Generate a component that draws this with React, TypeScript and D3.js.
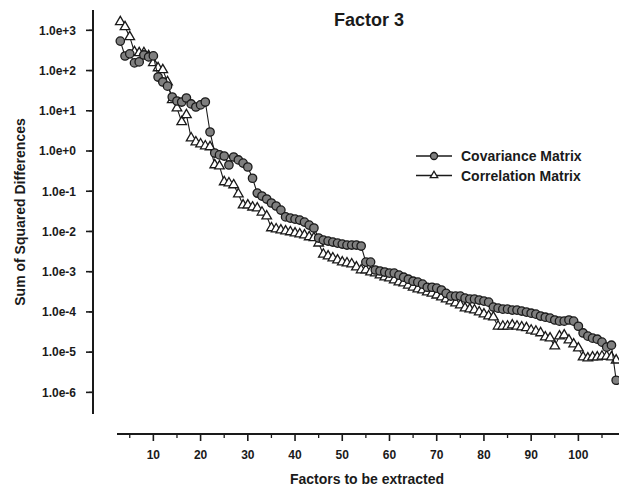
import React, { useEffect, useRef } from "react";
import * as d3 from "d3";

// factors 3..108
const factors = d3.range(3, 109);

// Covariance Matrix (circles)
const covariance = [
  540, 230, 260, 155, 164, 244, 218, 231, 69, 52,
  41, 22, 17.5, 16.5, 20.8, 14.8, 12.4, 14, 16.5, 2.97,
  0.89, 0.8, 0.75, 0.45, 0.71, 0.6, 0.5, 0.4, 0.21, 0.09,
  0.076, 0.064, 0.051, 0.043, 0.034, 0.023, 0.0215, 0.0203, 0.0192, 0.0171,
  0.0144, 0.0122, 0.00686, 0.0061, 0.00577, 0.00545, 0.00514, 0.00486, 0.00459, 0.00459,
  0.00459, 0.00434, 0.00173, 0.00173, 0.0011, 0.00104, 0.00098, 0.00092, 0.00092, 0.00082,
  0.00073, 0.00065, 0.00058, 0.00055, 0.00049, 0.00041, 0.00041, 0.00039, 0.00035, 0.00029,
  0.000247, 0.000247, 0.000247, 0.00022, 0.000208, 0.000208, 0.000197, 0.000186, 0.000175, 0.000132,
  0.000124, 0.000117, 0.000117, 0.000111, 0.000111, 0.000105, 9.9e-5, 9.3e-5, 8.8e-5, 7.9e-5,
  7.4e-5, 7.0e-5, 6.3e-5, 5.9e-5, 5.9e-5, 6.3e-5, 5.9e-5, 4.4e-5, 3.0e-5, 2.5e-5,
  2.23e-5, 2.1e-5, 1.77e-5, 1.33e-5, 1.49e-5, 2.0e-6,
];

// Correlation Matrix (triangles)
const correlation = [
  1620, 1215, 685, 290, 274, 274, 231, 155, 116, 104,
  52, 18.6, 11.7, 5.3, 7.9, 2.1, 1.67, 1.49, 1.33, 1.26,
  0.45, 0.42, 0.17, 0.16, 0.143, 0.085, 0.045, 0.045, 0.04, 0.038,
  0.03, 0.024, 0.0122, 0.0115, 0.0108, 0.0102, 0.0097, 0.0091, 0.0086, 0.0081,
  0.0073, 0.0069, 0.0051, 0.0027, 0.00244, 0.00218, 0.00194, 0.00173, 0.00164, 0.00155,
  0.0013, 0.0011, 0.0011, 0.00098, 0.00092, 0.00082, 0.00073, 0.00069, 0.00062, 0.00055,
  0.00052, 0.00046, 0.00041, 0.00037, 0.00035, 0.00031, 0.00029, 0.00026, 0.000233, 0.000208,
  0.000186, 0.000166, 0.000148, 0.000124, 0.000117, 0.000111, 9.9e-5, 8.8e-5, 7.9e-5, 7.4e-5,
  4.4e-5, 4.4e-5, 4.4e-5, 4.7e-5, 4.4e-5, 4.2e-5, 4.0e-5, 3.5e-5, 3.3e-5, 3.0e-5,
  2.36e-5, 2.23e-5, 1.41e-5, 2.5e-5, 2.65e-5, 1.99e-5, 1.58e-5, 1.26e-5, 7.5e-6, 7.1e-6,
  7.5e-6, 7.5e-6, 7.9e-6, 7.9e-6, 7.5e-6, 6.3e-6,
];

const xTickValues = [10, 20, 30, 40, 50, 60, 70, 80, 90, 100];
const xMinorValues = [5, 15, 25, 35, 45, 55, 65, 75, 85, 95, 105];
const seriesNames = ["Covariance Matrix", "Correlation Matrix"];

const FONT = "'Liberation Sans', Arial, sans-serif";
const INK = "#1a1a1a";

export default function App() {
  const ref = useRef<SVGSVGElement>(null);

  useEffect(() => {
    const svg = d3.select(ref.current);
    svg.selectAll("*").remove();

    const x = d3.scaleLinear().domain([2.3, 108.6]).range([117, 619]);
    const y = d3.scaleLog().domain([2.9e-7, 3.2e3]).range([414, 10]);

    svg.append("rect").attr("width", 619).attr("height", 487).attr("fill", "#fff");

    // y axis
    const allY = y.ticks();
    const majorY = allY.filter((v) => Math.abs(Math.log10(v) - Math.round(Math.log10(v))) < 1e-6);
    const yAxisG = svg.append("g").attr("transform", "translate(93,0)");
    yAxisG.append("line").attr("y1", 10).attr("y2", 414).attr("stroke", INK).attr("stroke-width", 2);
    yAxisG.selectAll(".minor").data(allY).enter().append("line")
      .attr("x1", -4).attr("x2", 0)
      .attr("y1", (d) => y(d)).attr("y2", (d) => y(d))
      .attr("stroke", INK).attr("stroke-width", 1.3);
    yAxisG.selectAll(".major").data(majorY).enter().append("line")
      .attr("x1", -7).attr("x2", 0)
      .attr("y1", (d) => y(d)).attr("y2", (d) => y(d))
      .attr("stroke", INK).attr("stroke-width", 1.6);
    yAxisG.selectAll(".lbl").data(majorY).enter().append("text")
      .attr("x", -17).attr("y", (d) => y(d)).attr("dy", "0.36em")
      .attr("text-anchor", "end")
      .style("font", `bold 12px ${FONT}`).attr("fill", INK)
      .text((d) => d.toExponential(1));

    // x axis
    const xAxisG = svg.append("g").attr("transform", "translate(0,434)");
    xAxisG.append("line").attr("x1", 117).attr("x2", 619).attr("stroke", INK).attr("stroke-width", 2);
    xAxisG.selectAll(".minor").data(xMinorValues).enter().append("line")
      .attr("x1", (d) => x(d)).attr("x2", (d) => x(d)).attr("y1", 0).attr("y2", 4)
      .attr("stroke", INK).attr("stroke-width", 1.3);
    xAxisG.selectAll(".major").data(xTickValues).enter().append("line")
      .attr("x1", (d) => x(d)).attr("x2", (d) => x(d)).attr("y1", 0).attr("y2", 7)
      .attr("stroke", INK).attr("stroke-width", 1.6);
    xAxisG.selectAll(".lbl").data(xTickValues).enter().append("text")
      .attr("x", (d) => x(d)).attr("y", 25)
      .attr("text-anchor", "middle")
      .style("font", `bold 12px ${FONT}`).attr("fill", INK)
      .text((d) => d);

    // titles
    svg.append("text").attr("x", 369).attr("y", 26).attr("text-anchor", "middle")
      .style("font", `bold 18px ${FONT}`).attr("fill", INK).text("Factor 3");
    svg.append("text").attr("x", 367).attr("y", 484).attr("text-anchor", "middle")
      .style("font", `bold 14px ${FONT}`).attr("fill", INK).text("Factors to be extracted");
    svg.append("text").attr("transform", "translate(25,212) rotate(-90)").attr("text-anchor", "middle")
      .style("font", `bold 14px ${FONT}`).attr("fill", INK).text("Sum of Squared Differences");

    const line = d3.line<number>().x((d, i) => x(factors[i])).y((d) => y(d));
    const tri = d3.symbol().type(d3.symbolTriangle).size(40);
    const triSmall = d3.symbol().type(d3.symbolTriangle).size(24);

    // correlation
    svg.append("path").attr("d", line(correlation)).attr("fill", "none").attr("stroke", INK).attr("stroke-width", 1.1);
    svg.selectAll(".tri").data(correlation).enter().append("path")
      .attr("d", tri)
      .attr("transform", (d, i) => `translate(${x(factors[i])},${y(d)})`)
      .attr("fill", "#fff").attr("stroke", INK).attr("stroke-width", 1.3);

    // covariance
    svg.append("path").attr("d", line(covariance)).attr("fill", "none").attr("stroke", INK).attr("stroke-width", 1.1);
    svg.selectAll(".circ").data(covariance).enter().append("circle")
      .attr("cx", (d, i) => x(factors[i])).attr("cy", (d) => y(d)).attr("r", 4.2)
      .attr("fill", "#7f7f7f").attr("stroke", INK).attr("stroke-width", 1.3);

    // legend
    const lg = svg.append("g");
    seriesNames.forEach((name, i) => {
      const ly = 156 + i * 19.5;
      lg.append("line").attr("x1", 416).attr("x2", 452).attr("y1", ly).attr("y2", ly)
        .attr("stroke", INK).attr("stroke-width", 1.5);
      if (i === 0) {
        lg.append("circle").attr("cx", 434).attr("cy", ly).attr("r", 3.5)
          .attr("fill", "#7f7f7f").attr("stroke", INK).attr("stroke-width", 1.3);
      } else {
        lg.append("path").attr("d", triSmall).attr("transform", `translate(434,${ly})`)
          .attr("fill", "#fff").attr("stroke", INK).attr("stroke-width", 1.3);
      }
      lg.append("text").attr("x", 461).attr("y", ly).attr("dy", "0.36em")
        .style("font", `bold 14px ${FONT}`).attr("fill", INK).text(name);
    });
  }, []);

  return (
    <svg ref={ref} width={619} height={487} style={{ position: "absolute", left: 0, top: 0 }} />
  );
}
